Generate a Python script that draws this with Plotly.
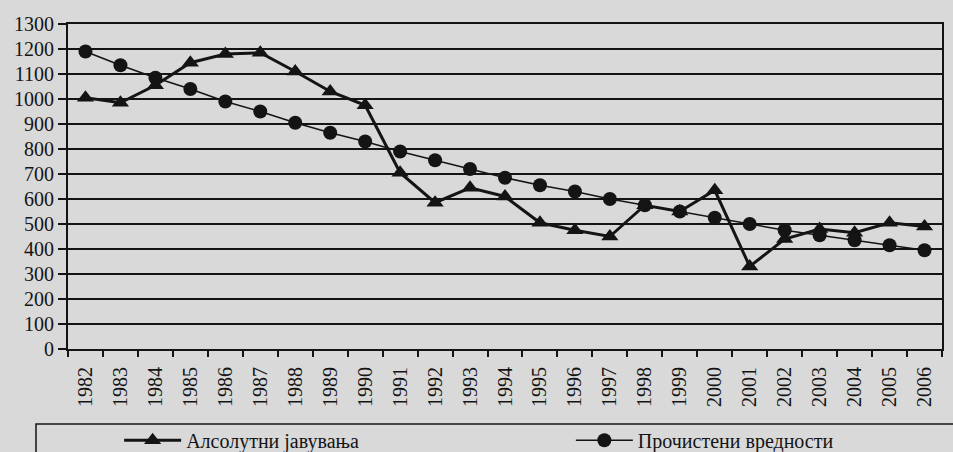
import plotly.graph_objects as go

years = [str(y) for y in range(1982, 2007)]
absolute_reports = [1005, 985, 1055, 1145, 1180, 1185, 1110, 1030, 975, 705, 585, 645, 610,
                    505, 475, 450, 575, 550, 635, 330, 440, 480, 465, 505, 490]
smoothed_values = [1190, 1135, 1085, 1040, 990, 950, 905, 865, 830, 790, 755, 720, 685,
                   655, 630, 600, 575, 550, 525, 500, 475, 455, 435, 415, 395]
y_ticks = list(range(0, 1301, 100))

series_names = ["Алсолутни јавувања", "Прочистени вредности"]

BG = "#d9d9d9"
INK = "#141414"
FONT = "Liberation Serif"

fig = go.Figure()
fig.add_trace(go.Scatter(
    x=years, y=absolute_reports, name=series_names[0], mode="lines+markers",
    line=dict(color=INK, width=3),
    marker=dict(symbol="triangle-up", size=15, color=INK),
    legend="legend",
))
fig.add_trace(go.Scatter(
    x=years, y=smoothed_values, name=series_names[1], mode="lines+markers",
    line=dict(color=INK, width=1.6),
    marker=dict(symbol="circle", size=14, color=INK),
    legend="legend2",
))

legend_common = dict(orientation="h", xref="container", yref="container",
                     xanchor="left", yanchor="middle",
                     bgcolor="rgba(0,0,0,0)", borderwidth=0, itemwidth=57,
                     font=dict(family=FONT, size=20, color=INK))

fig.update_layout(
    template="none",
    width=953, height=452,
    margin=dict(l=68, r=11, t=24, b=103),
    paper_bgcolor=BG, plot_bgcolor=BG,
    font=dict(family=FONT, color=INK, size=20),
    showlegend=True,
    legend=dict(x=0.125, y=0.026, **legend_common),
    legend2=dict(x=0.599, y=0.026, **legend_common),
    shapes=[dict(type="rect", xref="paper", yref="paper",
                 x0=-0.0366, x1=1.03, y0=-0.40, y1=-0.2308,
                 line=dict(color=INK, width=1.5), fillcolor="rgba(0,0,0,0)", layer="below")],
)

fig.update_xaxes(
    type="category", range=[-0.5, 24.5], automargin=False,
    tickangle=-90, tickfont=dict(family=FONT, size=20, color=INK),
    ticks="outside", ticklen=6, tickwidth=1.5, tickcolor=INK, tickson="boundaries",
    ticklabelstandoff=8,
    showline=True, linecolor=INK, linewidth=2, mirror=True,
    showgrid=False, zeroline=False,
)
fig.update_yaxes(
    range=[0, 1300], tickvals=y_ticks, automargin=False,
    tickfont=dict(family=FONT, size=20, color=INK),
    ticks="outside", ticklen=8, tickwidth=1.5, tickcolor=INK,
    showline=True, linecolor=INK, linewidth=2, mirror=True,
    showgrid=True, gridcolor=INK, gridwidth=1.5, zeroline=False,
)

fig.write_html(
    "out.html",
    config={"displayModeBar": False},
    post_script="document.body.style.margin='0';document.body.style.overflow='hidden';"
                "document.body.style.background='" + BG + "';",
)
